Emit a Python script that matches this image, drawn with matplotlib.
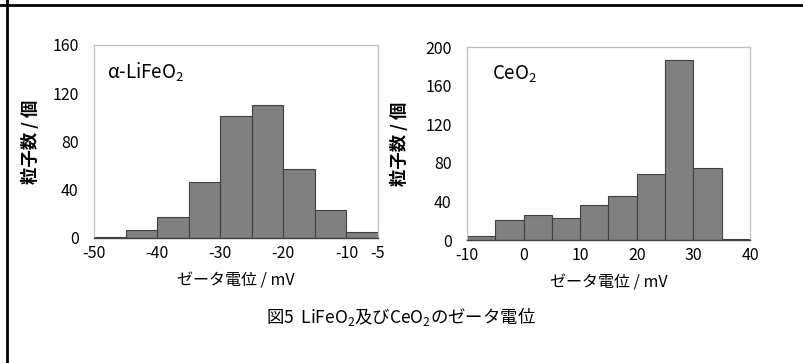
import matplotlib
matplotlib.use("Agg")
from matplotlib import pyplot as plt
from matplotlib.lines import Line2D

# histogram data (bin width 5 mV)
lifeo2_edges = [-50, -45, -40, -35, -30, -25, -20, -15, -10, -5]
lifeo2_counts = [0.5, 7, 17, 46, 101, 110, 57, 23, 5]
lifeo2_ticks = [-50, -40, -30, -20, -10, -5]
lifeo2_yticks = [0, 40, 80, 120, 160]

ceo2_edges = [-10, -5, 0, 5, 10, 15, 20, 25, 30, 35, 40]
ceo2_counts = [4, 21, 25.5, 22.5, 36, 46, 69, 186.5, 75, 1]
ceo2_ticks = [-10, 0, 10, 20, 30, 40]
ceo2_yticks = [0, 40, 80, 120, 160, 200]

plt.rcParams["font.family"] = ["Noto Sans CJK JP", "DejaVu Sans"]
plt.rcParams["mathtext.fontset"] = "custom"
plt.rcParams["mathtext.rm"] = "Noto Sans CJK JP"
plt.rcParams["axes.unicode_minus"] = False

fig = plt.figure(figsize=(8.04, 3.63), dpi=100)


def draw(ax, edges, counts, xticks, yticks, label, label_x, ylab_x):
    lefts = edges[:-1]
    widths = [b - a for a, b in zip(edges[:-1], edges[1:])]
    ax.bar(lefts, counts, width=widths, align="edge",
           color="#808080", edgecolor="#404040", linewidth=0.8, zorder=2)
    ax.set_xlim(edges[0], edges[-1])
    ax.set_ylim(yticks[0], yticks[-1])
    ax.set_xticks(xticks)
    ax.set_yticks(yticks)
    ax.tick_params(length=0, labelsize=11.5)
    ax.tick_params(axis="y", pad=11)
    ax.tick_params(axis="x", pad=5)
    for s in ("left", "top", "right"):
        ax.spines[s].set_color("#bfbfbf")
        ax.spines[s].set_linewidth(0.9)
    ax.spines["bottom"].set_color("#404040")
    ax.spines["bottom"].set_linewidth(1.0)
    ax.set_xlabel("ゼータ電位 / mV", fontsize=11.5)
    ax.set_ylabel("粒子数 / 個", fontsize=12.5, fontweight="bold")
    ax.xaxis.set_label_coords(0.5, -0.18)
    ax.yaxis.set_label_coords(ylab_x, 0.5)
    ax.text(label_x, 0.86, label, transform=ax.transAxes,
            fontsize=13.5, va="center", ha="left")


ax1 = fig.add_axes([0.1169, 0.3444, 0.3532, 0.5317])
draw(ax1, lifeo2_edges, lifeo2_counts, lifeo2_ticks, lifeo2_yticks,
     r"α-LiFeO$_\mathregular{2}$", 0.046, -0.19)

ax2 = fig.add_axes([0.5808, 0.3388, 0.352, 0.531])
draw(ax2, ceo2_edges, ceo2_counts, ceo2_ticks, ceo2_yticks,
     r"CeO$_\mathregular{2}$", 0.088, -0.205)

fig.text(0.499, 0.127,
         r"図5  LiFeO$_\mathregular{2}$及びCeO$_\mathregular{2}$のゼータ電位",
         ha="center", va="center", fontsize=12.5)

# outer frame (left and top only)
fig.add_artist(Line2D([7 / 804, 7 / 804], [0, 1], color="black", lw=2,
                      transform=fig.transFigure))
fig.add_artist(Line2D([0, 1], [1 - 5 / 363, 1 - 5 / 363], color="black", lw=2,
                      transform=fig.transFigure))

fig.savefig("out.png", dpi=100)
plt.close(fig)
